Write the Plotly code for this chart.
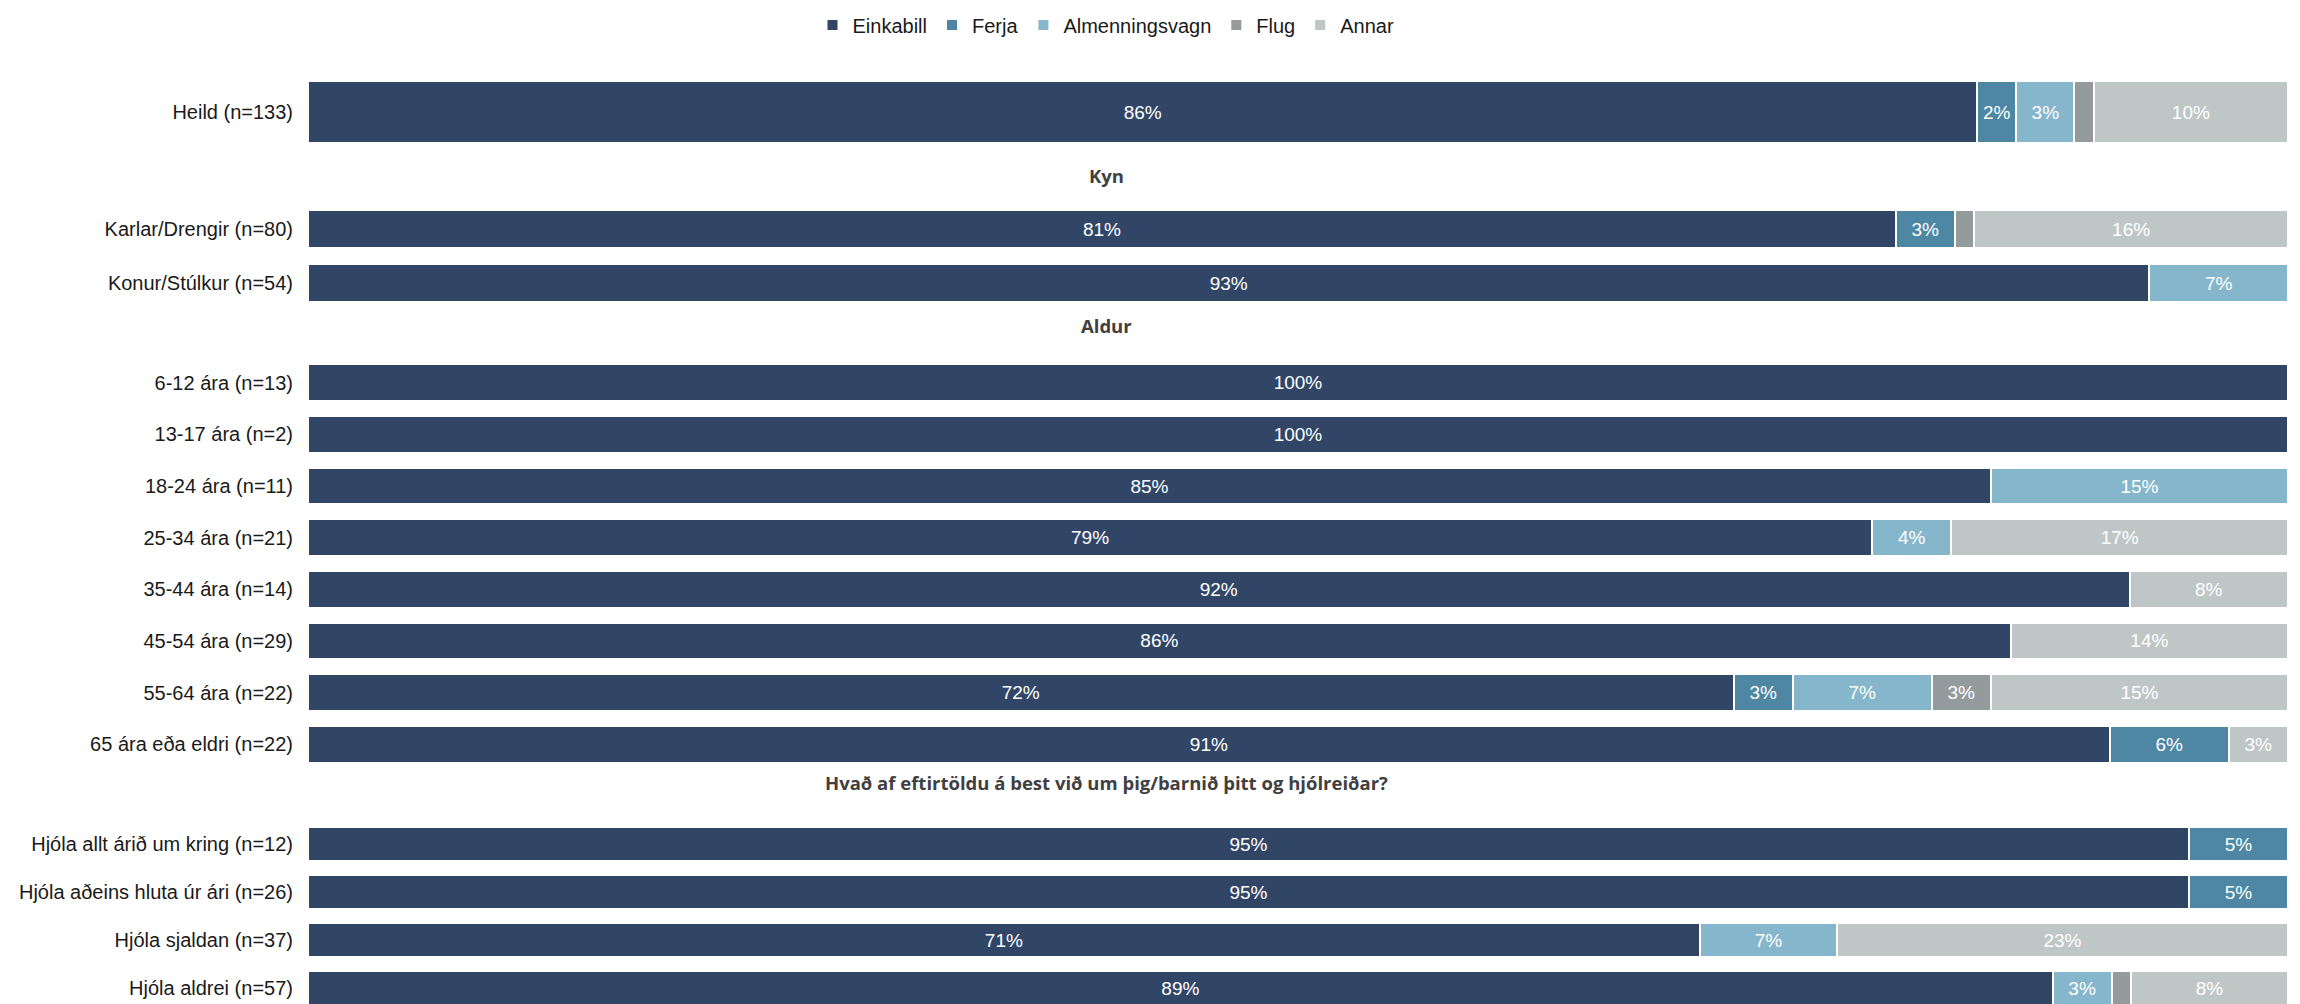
import plotly.graph_objects as go
from plotly.subplots import make_subplots

# ---- data -------------------------------------------------------------
section_titles = [
    "",
    "Kyn",
    "Aldur",
    "Hvað af eftirtöldu á best við um þig/barnið þitt og hjólreiðar?",
]
section_rows = [
    ["Heild (n=133)"],
    ["Karlar/Drengir (n=80)", "Konur/Stúlkur (n=54)"],
    [
        "6-12 ára (n=13)",
        "13-17 ára (n=2)",
        "18-24 ára (n=11)",
        "25-34 ára (n=21)",
        "35-44 ára (n=14)",
        "45-54 ára (n=29)",
        "55-64 ára (n=22)",
        "65 ára eða eldri (n=22)",
    ],
    [
        "Hjóla allt árið um kring (n=12)",
        "Hjóla aðeins hluta úr ári (n=26)",
        "Hjóla sjaldan (n=37)",
        "Hjóla aldrei (n=57)",
    ],
]

modes = ["Einkabill", "Ferja", "Almenningsvagn", "Flug", "Annar"]

# percentages per row, in the same order as the row labels above
einkabill = [86, 81, 93, 100, 100, 85, 79, 92, 86, 72, 91, 95, 95, 71, 89]
ferja = [2, 3, 0, 0, 0, 0, 0, 0, 0, 3, 6, 5, 5, 0, 0]
almenningsvagn = [3, 0, 7, 0, 0, 15, 4, 0, 0, 7, 0, 0, 0, 7, 3]
flug = [1, 1, 0, 0, 0, 0, 0, 0, 0, 3, 0, 0, 0, 0, 1]
annar = [10, 16, 0, 0, 0, 0, 17, 8, 14, 15, 3, 0, 0, 23, 8]

series = [einkabill, ferja, almenningsvagn, flug, annar]

# ---- style ------------------------------------------------------------
colors = ["#314667", "#4E87A3", "#86B6CC", "#949B9D", "#BFC7C6"]
FIG_W, FIG_H = 2300, 1004
PLOT_L, PLOT_R = 308, 2288
LABEL_FONT = "Liberation Sans, Arial, sans-serif"
HEADER_FONT = "Open Sans, Lato, sans-serif"

# vertical pixel band (top, bottom) occupied by each group of rows
bands = [(68, 156), (202, 310), (357, 770), (820, 1012)]
header_y = [None, 175, 326, 782]
header_x_px = 1106
legend_y_px = 25


def paper_y(px):
    return 1 - px / FIG_H


n_sec = len(section_rows)
fig = make_subplots(rows=n_sec, cols=1, shared_xaxes=True, vertical_spacing=0.01)

start = 0
for s, labels in enumerate(section_rows):
    n = len(labels)
    idx = range(start, start + n)
    for m, (name, vals) in enumerate(zip(modes, series)):
        xs = [vals[i] if vals[i] > 0 else None for i in idx]
        txt = [f"{vals[i]}%" if vals[i] >= 2 else "" for i in idx]
        fig.add_trace(
            go.Bar(
                y=labels,
                x=xs,
                orientation="h",
                name=name,
                legendgroup=name,
                showlegend=(s == 0),
                marker=dict(color=colors[m], line=dict(color="white", width=2)),
                text=txt,
                textposition="inside",
                insidetextanchor="middle",
                textfont=dict(family=LABEL_FONT, size=19, color="white"),
                hoverinfo="skip",
            ),
            row=s + 1,
            col=1,
        )
    start += n

    top, bottom = bands[s]
    pitch = (bottom - top) / n
    vis_bottom = min(bottom, FIG_H)
    yname = "yaxis" if s == 0 else f"yaxis{s + 1}"
    fig.layout[yname].update(
        domain=[paper_y(vis_bottom), paper_y(top)],
        type="category",
        categoryorder="array",
        categoryarray=labels,
        range=[-0.5 + (vis_bottom - top) / pitch, -0.5],
        showgrid=False,
        zeroline=False,
        showline=False,
        ticks="",
        ticklabelstandoff=14,
        tickfont=dict(family=LABEL_FONT, size=20, color="#1a1a1a"),
        fixedrange=True,
    )
    xname = "xaxis" if s == 0 else f"xaxis{s + 1}"
    fig.layout[xname].update(
        range=[0, 100], visible=False, showgrid=False, zeroline=False, fixedrange=True
    )

    if section_titles[s]:
        fig.add_annotation(
            text=f"<b>{section_titles[s]}</b>",
            xref="paper",
            yref="paper",
            x=(header_x_px - PLOT_L) / (PLOT_R - PLOT_L),
            y=paper_y(header_y[s]),
            xanchor="center",
            yanchor="middle",
            showarrow=False,
            font=dict(family=HEADER_FONT, size=18.5, color="#404040"),
        )

fig.update_layout(
    width=FIG_W,
    height=FIG_H,
    barmode="stack",
    barnorm="percent",
    bargap=0.29,
    plot_bgcolor="white",
    paper_bgcolor="white",
    margin=dict(l=PLOT_L, r=FIG_W - PLOT_R, t=0, b=0, pad=0),
    uniformtext=dict(minsize=19, mode="show"),
    legend=dict(
        orientation="h",
        x=(header_x_px - PLOT_L) / (PLOT_R - PLOT_L),
        xanchor="center",
        y=paper_y(legend_y_px),
        yanchor="middle",
        font=dict(family=LABEL_FONT, size=20, color="#1a1a1a"),
        traceorder="normal",
        bgcolor="rgba(0,0,0,0)",
    ),
)

fig.write_html("out.html")
